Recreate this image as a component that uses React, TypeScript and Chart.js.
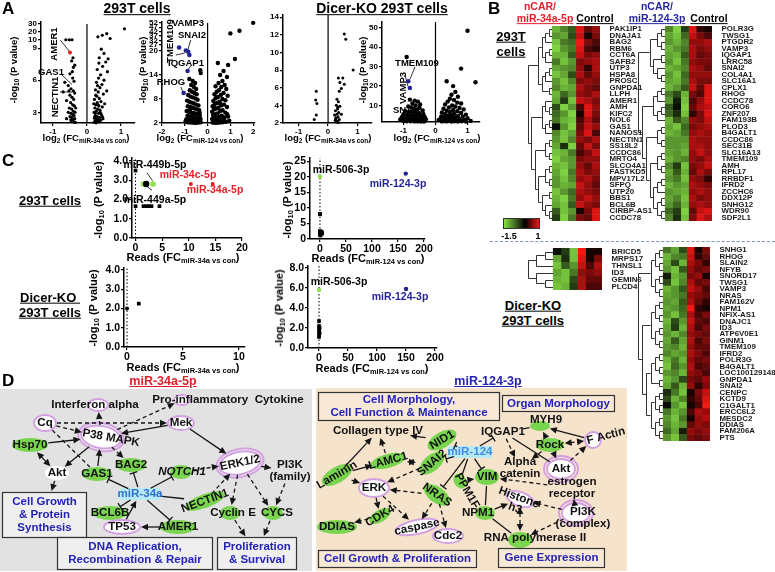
import React, { useEffect, useRef } from "react";
import { Chart, registerables } from "chart.js";
Chart.register(...registerables);

const FF = "'Liberation Sans', Arial, Helvetica, sans-serif";
const RED = "#e3202a";
const BLUE = "#25259e";

// ---------------- Panel A data (log2 FC, -log10 P) ----------------
const a1Left = [[-0.62,10.4],[-0.52,10.3],[-0.44,10.4],[-0.45,7.8],[-0.4,7.2],[-0.5,6.6],[-0.42,6.2],[-0.38,5.9],[-0.55,5.5],[-0.47,5.2],[-0.4,5.0],[-0.36,4.8],[-0.5,4.6],[-0.44,4.4],[-0.39,4.2],[-0.6,4.1],[-0.48,3.9],[-0.42,3.7],[-0.37,3.6],[-0.52,3.4],[-0.45,3.3],[-0.4,3.1],[-0.35,3.0],[-0.47,2.9],[-0.42,2.8],[-0.38,2.7],[-0.5,2.6],[-0.44,2.5],[-0.36,2.4],[-0.41,2.3],[-0.46,2.2],[-0.39,2.1],[-0.34,2.05],[-0.43,6.8],[-0.65,5.8],[-0.7,4.9],[-0.36,7.4],[-0.41,8.1],[-0.33,3.4],[-0.55,3.0],[-0.6,2.4],[-0.48,2.3],[-0.53,5.0]];
const a1Red = [[-0.5,8.6]];
const a1Right = [[1.1,24],[0.58,18],[0.45,16],[0.32,14],[0.68,12],[0.42,8.9],[0.5,8.5],[0.36,8.1],[0.55,7.7],[0.46,7.3],[0.3,7.0],[0.6,6.8],[0.4,6.5],[0.34,6.2],[0.5,6.0],[0.28,5.8],[0.44,5.6],[0.38,5.3],[0.25,5.1],[0.33,4.9],[0.48,4.7],[0.29,4.5],[0.36,4.3],[0.22,4.2],[0.41,4.0],[0.3,3.9],[0.26,3.7],[0.35,3.6],[0.45,3.5],[0.23,3.4],[0.31,3.3],[0.38,3.2],[0.27,3.1],[0.21,3.0],[0.34,2.9],[0.42,2.8],[0.25,2.7],[0.3,2.6],[0.37,2.5],[0.22,2.45],[0.28,2.35],[0.33,2.3],[0.4,2.25],[0.24,2.2],[0.3,2.15],[0.36,2.1],[0.21,2.05],[0.27,2.02],[0.47,2.4],[0.52,3.8],[0.58,5.0],[0.2,3.8],[0.26,4.6],[0.31,5.5],[0.35,7.6],[0.62,8.0],[0.24,2.9],[0.32,3.7],[0.29,2.5],[0.39,3.0],[0.45,2.6],[0.23,2.6]];
const a1Notes = [[[-0.78,10.0],[-0.52,8.7]],[[-0.74,6.5],[-0.44,5.6]],[[-0.79,4.9],[-0.44,4.9]]];
const a1YTicks = [3,6,9,10,20,30];

const a2Left = [[-0.8,13],[-0.65,12.5],[-0.55,12],[-0.72,11.5],[-0.6,11],[-0.5,10.5],[-0.78,10.2],[-0.68,9.8],[-0.58,9.5],[-0.48,9.2],[-0.85,9],[-0.75,8.6],[-0.64,8.4],[-0.53,8.1],[-0.44,7.8],[-0.9,7.6],[-0.8,7.3],[-0.7,7.1],[-0.6,6.9],[-0.5,6.6],[-0.4,6.4],[-0.87,6.2],[-0.76,6],[-0.66,5.8],[-0.56,5.6],[-0.46,5.4],[-0.37,5.2],[-0.92,5],[-0.82,4.8],[-0.72,4.6],[-0.62,4.5],[-0.52,4.3],[-0.42,4.1],[-0.34,3.9],[-0.88,3.8],[-0.78,3.6],[-0.68,3.5],[-0.58,3.4],[-0.48,3.2],[-0.38,3.1],[-0.31,3],[-0.94,2.9],[-0.84,2.8],[-0.74,2.7],[-0.64,2.6],[-0.54,2.5],[-0.44,2.4],[-0.35,2.3],[-0.9,2.2],[-0.8,2.15],[-0.7,2.1],[-0.6,2.05],[-0.5,2.02],[-0.4,2.1],[-0.3,2.2],[-0.97,2.4],[-0.86,3.3],[-0.45,2.8],[-0.57,3],[-0.67,4],[-0.77,5.3],[-0.35,4.6],[-0.3,14.5],[-0.32,15.2]];
const a2Blue = [[-0.95,20.5],[-0.85,19.8],[-0.8,19],[-0.88,15],[-1.05,9.5],[-1.25,24]];
const a2Right = [[2.0,52],[1.4,43],[1.0,40],[1.2,18],[0.45,17],[0.9,16.5],[0.7,15],[0.55,14],[0.85,13.5],[0.65,12.5],[0.48,12],[0.75,11.5],[0.35,11.2],[0.6,11],[0.82,10.5],[0.5,10.2],[0.4,9.8],[0.7,9.5],[0.3,9.2],[0.58,9],[0.88,8.8],[0.45,8.5],[0.35,8.2],[0.65,8],[0.78,7.7],[0.25,7.5],[0.52,7.3],[0.42,7],[0.32,6.8],[0.72,6.6],[0.6,6.4],[0.22,6.2],[0.85,6],[0.48,5.8],[0.38,5.6],[0.28,5.4],[0.66,5.2],[0.55,5],[0.2,4.8],[0.78,4.6],[0.44,4.4],[0.34,4.2],[0.24,4],[0.62,3.8],[0.9,3.6],[0.5,3.5],[0.4,3.3],[0.3,3.1],[0.2,3],[0.7,2.9],[0.58,2.8],[0.46,2.6],[0.36,2.5],[0.26,2.4],[0.8,2.3],[0.66,2.2],[0.54,2.1],[0.42,2.05],[0.32,2.02],[0.22,2.1],[0.95,2.6],[0.74,3.4],[0.86,4.2],[0.3,5.9],[0.56,6.9]];
const a2Notes = [[[-1.39,19],[-1.0,19.5]],[[-0.74,32.5],[-0.87,21.1]],[[-0.74,16.3],[-0.91,14.8]],[[-1.17,11],[-1.04,9.2]]];
const a2YTicks = [2,8,14,20,27,32,37,42,47,52];

const a3Points = [[-0.4,5.6],[-0.42,4.6],[-0.38,4.2],[-0.4,2.9],[-0.47,2.4],[0.55,12.1],[0.6,11.5],[0.85,8],[0.35,7.1],[0.5,7.1],[0.4,6.6],[0.55,6.4],[0.45,5.9],[0.38,5.6],[0.3,4.7],[0.35,4.4],[0.28,4.0],[0.4,3.9],[0.32,3.6],[0.25,3.4],[0.36,3.2],[0.3,3.0],[0.22,2.9],[0.34,2.7],[0.27,2.5],[0.38,2.4],[0.24,2.3],[0.31,2.2],[0.28,2.1],[0.35,2.05],[0.26,2.6],[0.33,3.8],[0.45,3.0]];
const a3YTicks = [2,4,6,8,10,12,14];

const a4Left = [[-0.9,35],[-0.8,13],[-0.65,12.5],[-0.55,12],[-0.72,11],[-0.48,10.5],[-0.62,10],[-0.85,9.5],[-0.75,9],[-0.5,8.8],[-0.68,8.2],[-0.58,7.8],[-0.4,7.5],[-0.95,7.2],[-0.82,6.8],[-0.7,6.5],[-0.6,6.2],[-0.5,6],[-0.38,5.7],[-1.0,5.5],[-0.88,5.2],[-0.76,5],[-0.64,4.8],[-0.54,4.6],[-0.44,4.4],[-0.34,4.2],[-1.05,4],[-0.92,3.8],[-0.8,3.6],[-0.68,3.5],[-0.58,3.3],[-0.48,3.1],[-0.38,3],[-0.3,2.9],[-1.1,2.8],[-0.98,2.7],[-0.86,2.6],[-0.74,2.5],[-0.62,2.4],[-0.52,2.3],[-0.42,2.2],[-0.33,2.1],[-1.0,2],[-0.9,1.9],[-0.78,1.9],[-0.66,1.8],[-0.56,1.8],[-0.46,1.7],[-0.36,1.7]];
const a4Blue = [[-0.85,22.5],[-0.8,19]];
const a4Right = [[1.0,48.5],[0.8,29],[1.25,22],[0.35,22.5],[0.55,20],[0.62,17],[0.5,15.5],[0.7,14.5],[0.45,13.5],[0.58,12.8],[0.38,12],[0.68,11.5],[0.8,11],[0.3,10.5],[0.52,10],[0.62,9.5],[0.42,9],[0.75,8.7],[0.25,8.3],[0.88,8],[0.55,7.7],[0.35,7.3],[0.68,7],[0.45,6.7],[0.2,6.4],[0.8,6.1],[0.58,5.8],[0.3,5.5],[0.95,5.3],[0.48,5],[0.38,4.8],[0.7,4.6],[0.18,4.4],[0.85,4.2],[0.6,4],[0.28,3.8],[0.5,3.6],[1.0,3.4],[0.4,3.2],[0.75,3],[0.15,2.9],[0.62,2.8],[0.32,2.6],[0.9,2.5],[0.52,2.4],[0.22,2.3],[0.7,2.2],[0.42,2.1],[1.1,2],[0.82,1.9],[0.6,1.9],[0.35,1.8],[0.2,1.8],[0.5,1.7],[0.7,1.7],[0.95,1.7],[0.28,2.0],[0.1,2.5]];
const a4Notes = [[[-0.64,29.9],[-0.8,23.4]],[[-0.95,25.7],[-0.86,19.8]]];
const a4YTicks = [10,20,30,40,50];

// ---------------- Panel C data (reads FC, -log10 P) ----------------
const c1Black = [[0,3.5],[0,1.65],[1.5,1.65],[2,1.65],[2.5,1.65],[3,1.65],[4.5,1.65]];
const c1BigBlack = [[2,2.8]];
const c1Green = [[1.5,2.8],[3.3,2.8]];
const c1Red = [[10.4,2.8],[14.5,2.8]];
const c1Notes = [[[2.16,3.38],[3.2,2.97]],[[3.1,2.47],[1.97,2.72]]];
const c2Black = [[0,8],[0,2.5],[0,2],[0,1.5],[2,2],[4,1.8],[3,2.3],[1,1.2]];
const c2Green = [[0,20]];
const c2Blue = [[165,21]];
const c3Black = [[0,2.0]];
const c3Square = [[1.05,2.25]];
const c4Black = [[0,2.7],[0,2.2],[0,1.9],[0,1.6],[0,1.3],[0,1.1],[1,2.0],[1,1.5]];
const c4Green = [[0,5.8]];
const c4Blue = [[150,5.9]];

// ---------------- Panel B heatmaps (z-scores, 3 nCAR columns + 3 control columns) ----------------
const h1Genes = ["PAK1IP1","DNAJA1","BAG2","RBM6","CCT6A","SAFB2","UTP3","HSPA8","PROSC","GNPDA1","LLPH","AMER1","AMH","KIFC2","NOL6","GAS1","NANOS1","NECTIN1","SS18L2","CCDC86","MRTO4","SLCO4A1","FASTKD5","MPV17L2","SFPQ","UTP20","BBS1","BCL6B","CIRBP-AS1","CCDC78"];
const h1Vals = [[-1.2,-0.9,-0.6,0.9,0.4,0.6],[-1.0,-1.1,-0.5,0.8,0.1,0.5],[-1.3,-0.8,-0.7,1.0,0.5,0.3],[-1.4,-1.0,-0.8,0.9,0.3,0.2],[-1.2,-1.2,-0.6,0.8,0.5,0.6],[-0.8,-1.3,-1.0,0.5,0.6,0.7],[-1.1,-1.0,-0.9,0.6,0.2,0.7],[-1.3,-1.1,-0.5,0.7,0.4,0.6],[-1.0,-1.3,-0.9,0.5,0.6,0.5],[-0.9,-1.2,-1.1,0.7,0.5,0.4],[-1.2,-0.7,-1.0,0.6,0.5,0.7],[-1.1,-0.4,-1.3,0.8,0.7,0.5],[-0.5,-1.4,-1.0,0.3,0.9,0.6],[-0.7,-1.0,-1.4,0.1,0.9,0.5],[-0.8,-1.2,-1.3,0.3,0.7,0.4],[-0.1,-1.0,-1.4,0.4,0.8,0.6],[-0.9,-1.3,-1.1,0.5,0.9,0.3],[-1.0,-1.3,-0.9,0.6,0.5,0.7],[-1.1,-0.3,-1.4,0.4,0.8,0.5],[-1.3,-1.2,-0.8,0.3,0.5,0.8],[-1.4,-1.1,-1.0,0.5,0.6,0.6],[-1.2,-1.3,-1.0,0.6,0.4,0.7],[-1.1,-1.4,-0.8,0.7,0.5,0.6],[-1.0,-1.3,-0.9,0.6,0.7,0.5],[-1.0,-1.2,-1.1,0.8,0.6,0.4],[-1.3,-1.0,-0.7,0.7,0.6,0.5],[-1.2,-1.4,-0.8,0.6,0.8,0.6],[-1.1,-1.3,-0.6,0.8,0.6,0.5],[-0.6,-1.3,-1.0,0.1,0.5,0.9],[-0.4,-1.4,-0.8,0.5,0.4,0.9]];
const h1Tree = [[[[[0,1],2],[[3,4],5]],[[[6,7],8],[9,10]]],[[[11,[12,13]],[[14,15],16]],[[[17,18],[19,20]],[[[21,22],[23,24]],[[25,26],[27,[28,29]]]]]]];

const h2Genes = ["POLR3G","TWSG1","PTGDR2","VAMP3","IQGAP1","LRRC58","SNAI2","COL4A1","SLC16A1","CPLX1","RHOG","CCDC78","CORO6","ZNF207","FAM193B","PLOD3","B4GALT1","CCDC86","SEC31B","SLC16A13","TMEM109","AMH","RPL17","RRBDF1","IFRD2","ZCCHC6","DDX12P","SNHG12","WDR90","SDF2L1"];
const h2Vals = [[-0.9,-1.4,-0.4,0.9,0.2,0.1],[-1.1,-1.3,-0.7,0.8,0.5,0.3],[-1.0,-1.2,-0.9,0.6,0.6,0.7],[-1.2,-1.0,-0.8,0.7,0.5,0.6],[-1.1,-1.2,-0.6,0.7,0.4,0.5],[-1.0,-1.3,-0.8,0.6,0.5,0.5],[-1.2,-1.1,-0.9,0.7,0.6,0.4],[-1.0,-1.3,-0.7,0.6,0.6,0.6],[-1.1,-1.2,-0.8,0.7,0.5,0.5],[-1.2,-1.0,-0.6,0.8,0.4,0.9],[-0.8,-0.5,-1.2,0.5,0.3,0.9],[-1.0,-0.2,-1.3,0.3,0.6,0.9],[-0.6,-0.1,-1.4,0.4,0.7,0.8],[-0.7,-0.3,-1.3,0.2,0.5,0.9],[-1.2,-0.6,-0.9,0.6,0.5,0.8],[-1.1,-1.3,-0.7,0.5,0.6,0.7],[-1.2,-1.1,-0.8,0.6,0.7,0.6],[-1.0,-1.0,-1.0,0.7,0.6,0.6],[-1.0,-1.0,-1.1,0.7,0.7,0.6],[-1.1,-1.0,-1.2,0.6,0.8,0.6],[-1.2,-1.0,-0.9,0.6,0.5,0.7],[-0.9,-0.4,-1.3,0.5,0.6,0.8],[-1.1,-0.6,-1.2,0.4,0.7,0.5],[-1.0,-0.8,-1.3,0.6,0.5,0.2],[-1.2,-1.0,-1.1,0.7,0.6,0.5],[-1.0,-1.1,-1.2,0.6,0.7,0.6],[-1.1,-0.9,-1.3,0.7,0.5,0.6],[-1.0,-0.7,-1.2,0.6,0.7,0.6],[-0.7,-0.4,-1.4,0.4,0.8,0.9],[-0.9,-0.3,-1.3,0.5,0.9,0.7]];
const h2Tree = [[[[0,1],[2,3]],[[4,5],[6,[7,8]]]],[[[[9,10],11],[[12,13],14]],[[[15,16],[17,18]],[[[19,20],[21,22]],[[[23,24],25],[[26,27],[28,29]]]]]]];

const h3Genes = ["BRICD5","MRPS17","THNSL1","ID3","GEMIN6","PLCD4"];
const h3Vals = [[-0.1,-0.4,-1.3,1.0,0.1,0.1],[-1.1,-0.3,-1.3,0.9,0.1,0.5],[-1.3,-0.6,-1.0,0.8,0.3,0.7],[-1.1,-1.3,-0.8,0.6,0.5,0.6],[-1.2,-1.3,-0.5,0.7,0.4,0.4],[-1.3,-1.2,-0.4,0.7,0.3,0.3]];
const h3Tree = [[[0,1],2],[3,[4,5]]];

const h4Genes = ["SNHG1","RHOG","SLAIN2","NFYB","SNORD17","TWSG1","VAMP3","NRAS","FAM162V","NPM1","NFIX-AS1","DNAJC1","ID3","ATP6V0E1","GINM1","TMEM109","IFRD2","POLR3G","B4GALT1","LOC100129148","GNPDA1","SNAI2","CENPC","KCTD9","C1GALT1","ERCC6L2","MESDC2","DDIAS","FAM206A","PTS"];
const h4Vals = [[-0.8,-1.1,-0.5,0.9,0.1,0.5],[-1.2,-0.9,-0.8,0.8,0.2,0.4],[-1.1,-0.5,-1.2,0.7,0.5,0.2],[-1.0,-1.3,-0.6,0.6,0.4,0.5],[-0.2,-1.2,-1.0,0.5,0.6,0.1],[-0.5,-1.3,-0.9,0.7,0.4,0.5],[-1.2,-1.0,-0.6,0.8,0.6,0.3],[-1.1,-1.0,-0.8,0.6,0.5,0.4],[-1.0,-1.1,-0.6,0.7,0.4,0.2],[-1.1,-1.0,-0.7,1.0,0.2,0.1],[-1.0,-1.3,-0.8,0.7,0.3,0.5],[-1.2,-0.5,-1.0,0.8,0.4,0.3],[-1.1,-0.4,-1.2,0.7,0.3,0.5],[-1.0,-1.2,-0.9,0.6,0.5,0.4],[-1.1,-0.6,-1.1,0.7,0.3,0.5],[-1.0,-0.9,-1.2,0.6,0.4,0.4],[-0.9,-1.1,-1.0,0.7,0.5,0.3],[-1.2,-0.8,-1.2,0.6,0.4,0.5],[-1.3,-0.7,-1.0,0.7,0.3,0.4],[-1.0,-0.9,-1.2,0.6,0.5,0.3],[-1.2,-1.0,-0.5,0.5,0.4,0.6],[-1.1,-0.6,-1.2,0.6,0.2,0.5],[-0.3,-0.8,-1.3,0.1,0.5,0.8],[-0.5,-1.2,-0.9,0.2,0.4,0.9],[-0.1,-1.0,-1.3,0.1,0.3,1.0],[-0.8,-1.2,-1.0,0.3,0.7,0.6],[-1.0,-1.3,-0.8,0.1,0.6,0.7],[-0.9,-1.2,-1.0,0.4,0.6,0.5],[-0.7,-1.1,-0.2,0.6,0.5,0.6],[-1.0,-1.3,-0.6,0.5,0.4,0.5]];
const h4Tree = [[[[0,1],[2,3]],[[4,5],[6,7]]],[[[[8,9],[10,11]],[[12,13],[14,15]]],[[[[16,17],[18,19]],[20,21]],[[[22,23],[24,25]],[[26,27],[28,29]]]]]];

// ---------------- Panel D networks (IPA) ----------------
const dBackgrounds = [
  { x0: 0, y0: 389, x1: 312, y1: 571, c: "#e2e2e2" },
  { x0: 316, y0: 388, x1: 627, y1: 571, c: "#f6e3cc" },
];
const dNodes = [
  { id: "ifn", t: ["Interferon alpha"], x: 95, y: 405, s: "pink", sx: 98, rx: 10, ry: 6 },
  { id: "pic", t: ["Pro-inflammatory  Cytokine"], x: 228, y: 400, s: "pink", sx: 182, rx: 8, ry: 5 },
  { id: "cq", t: ["Cq"], x: 45, y: 423, s: "pink", rx: 11, ry: 8 },
  { id: "mek", t: ["Mek"], x: 181, y: 423, s: "pink", rx: 13, ry: 7 },
  { id: "p38", t: ["P38 MAPK"], x: 111, y: 438, rot: 10, s: "pink2", sx: 101, sy: 437, rx: 20, ry: 11 },
  { id: "hsp", t: ["Hsp70"], x: 30, y: 445, s: "green", rx: 18, ry: 7 },
  { id: "akt", t: ["Akt"], x: 57, y: 473, s: "white", rx: 12, ry: 7 },
  { id: "gas1", t: ["GAS1"], x: 97, y: 474, s: "green", rx: 15, ry: 7 },
  { id: "bag2", t: ["BAG2"], x: 131, y: 465, s: "green", rx: 15, ry: 7 },
  { id: "notch", t: ["NOTCH1"], x: 182, y: 472, it: true, s: "green", sx: 181, rx: 11, ry: 7 },
  { id: "erk", t: ["ERK1/2"], x: 240, y: 463, rot: -12, s: "pink2", rx: 21, ry: 11 },
  { id: "pi3k", t: ["PI3K", "(family)"], x: 290, y: 471, s: "none", rx: 18, ry: 12 },
  { id: "mir", t: ["miR-34a"], x: 140, y: 494, s: "mir", c: "#2f72cf", rx: 20, ry: 6 },
  { id: "nec", t: ["NECTIN1"], x: 205, y: 501, rot: -20, s: "green", rx: 21, ry: 7 },
  { id: "bcl", t: ["BCL6B"], x: 110, y: 513, s: "green", rx: 17, ry: 7 },
  { id: "cyc", t: ["Cyclin E"], x: 233, y: 513, s: "green", sx: 230, rx: 10, ry: 7 },
  { id: "cycs", t: ["CYCS"], x: 277, y: 513, s: "green", sx: 273, rx: 10, ry: 7 },
  { id: "tp53", t: ["TP53"], x: 122, y: 527, s: "pink", rx: 18, ry: 7 },
  { id: "amer", t: ["AMER1"], x: 178, y: 527, s: "green", rx: 18, ry: 7 },
  { id: "col", t: ["Collagen type IV"], x: 378, y: 431, s: "none", rx: 45, ry: 6 },
  { id: "myh9", t: ["MYH9"], x: 546, y: 420, s: "green", sx: 540, sy: 426, rx: 10, ry: 5 },
  { id: "iq", t: ["IQGAP1"], x: 503, y: 432, s: "none", rx: 22, ry: 6 },
  { id: "nid", t: ["NID1"], x: 442, y: 440, rot: -30, s: "green", rx: 16, ry: 8 },
  { id: "m124", t: ["miR-124"], x: 470, y: 452, s: "mir", c: "#3f8ee0", rx: 22, ry: 6 },
  { id: "rock", t: ["Rock"], x: 550, y: 445, s: "green", rx: 14, ry: 7 },
  { id: "fact", t: ["F Actin"], x: 606, y: 436, rot: -15, s: "pink", sx: 593, sy: 440, rx: 8, ry: 8 },
  { id: "lam", t: ["Laminin"], x: 337, y: 475, rot: -30, s: "green", rx: 17, ry: 8 },
  { id: "lamc", t: ["LAMC1"], x: 388, y: 461, rot: -15, s: "green", rx: 18, ry: 7 },
  { id: "snai", t: ["SNAI2"], x: 432, y: 463, rot: -40, s: "green", rx: 15, ry: 8 },
  { id: "alpha", t: ["Alpha", "catenin"], x: 520, y: 468, s: "none", rx: 20, ry: 10 },
  { id: "akt2", t: ["Akt"], x: 561, y: 469, s: "pink2", rx: 14, ry: 10 },
  { id: "erk2", t: ["ERK"], x: 374, y: 488, s: "pink", rx: 15, ry: 9 },
  { id: "nras", t: ["NRAS"], x: 437, y: 495, rot: 35, s: "green", rx: 15, ry: 8 },
  { id: "ppm", t: ["PPM1F"], x: 467, y: 491, rot: 60, s: "green", sx: 460, sy: 481, rx: 8, ry: 6 },
  { id: "vim", t: ["VIM"], x: 487, y: 477, s: "green", rx: 12, ry: 8 },
  { id: "hist", t: ["Histone", "h3"], x: 517, y: 503, rot: 20, s: "pink", sx: 520, sy: 499, rx: 14, ry: 7 },
  { id: "estr", t: ["estrogen", "receptor"], x: 572, y: 488, s: "none", rx: 25, ry: 10 },
  { id: "cdk4", t: ["CDK4"], x: 380, y: 516, rot: -30, s: "green", rx: 12, ry: 6 },
  { id: "ddias", t: ["DDIAS"], x: 337, y: 527, s: "green", rx: 20, ry: 7 },
  { id: "casp", t: ["caspase"], x: 417, y: 527, rot: -12, s: "pink", rx: 22, ry: 7 },
  { id: "cdc2", t: ["Cdc2"], x: 448, y: 536, s: "pink", rx: 15, ry: 7 },
  { id: "npm", t: ["NPM1"], x: 478, y: 513, s: "green", sx: 485, rx: 10, ry: 7 },
  { id: "pi3kc", t: ["PI3K", "(complex)"], x: 583, y: 518, s: "pink2", sx: 576, sy: 513, rx: 14, ry: 10 },
  { id: "rna", t: ["RNA polymerase II"], x: 535, y: 538, s: "green", sx: 520, sy: 540, rx: 12, ry: 8 },
];
const dBoxes = [
  { id: "bxg", t: ["Cell Growth", "& Protein", "Synthesis"], x0: 2, y0: 492, x1: 87, y1: 538, f: "#efefef" },
  { id: "bxd", t: ["DNA Replication,", "Recombination & Repair"], x0: 57, y0: 537, x1: 213, y1: 570, f: "#efefef" },
  { id: "bxp", t: ["Proliferation", "& Survival"], x0: 217, y0: 537, x1: 297, y1: 570, f: "#efefef" },
  { id: "bcm", t: ["Cell Morphology,", "Cell Function & Maintenance"], x0: 318, y0: 392, x1: 500, y1: 421, f: "#f8e8d6" },
  { id: "bom", t: ["Organ Morphology"], x0: 502, y0: 395, x1: 615, y1: 412, f: "#f8e8d6" },
  { id: "bcg", t: ["Cell Growth & Proliferation"], x0: 318, y0: 550, x1: 477, y1: 568, f: "#f8e8d6" },
  { id: "bge", t: ["Gene Expression"], x0: 498, y0: 548, x1: 605, y1: 568, f: "#f8e8d6" },
];
// a = arrow, da = dashed arrow, i = inhibition, l = line, aa/dd = double-headed
const dEdges = [
  ["cq","p38","da"],["cq","mek","da"],["mek","p38","a"],["p38","ifn","da"],["p38","pic","da"],["hsp","p38","a"],["hsp","akt","aa"],["p38","akt","a"],["cq","gas1","d"],["gas1","p38","a"],["p38","bag2","da"],["mek","erk","a"],["erk","pi3k","da"],["erk","cyc","da"],["erk","cycs","da"],["pi3k","cycs","da"],["nec","erk","da"],["notch","erk","da"],["mir","gas1","i"],["mir","bag2","i"],["mir","notch","i"],["mir","bcl","i"],["mir","nec","l"],["mir","amer","i"],["tp53","mir","a"],["amer","tp53","a"],["cyc","bxp","da"],["cycs","bxp","da"],["akt","bxg","da"],
  ["lam","col","a"],["lam","lamc","a"],["lam","erk2","da"],["lamc","col","da"],["lamc","snai","dd"],["nid","col","a"],["m124","nid","i"],["m124","snai","i"],["m124","iq","i"],["m124","vim","i"],["m124","nras","i"],["m124","ppm","l"],["snai","erk2","da"],["erk2","cdk4","da"],["erk2","casp","da"],["nras","erk2","da"],["nras","casp","da"],["nras","cdc2","da"],["cdk4","ddias","da"],["iq","alpha","da"],["iq","akt2","l"],["iq","myh9","l"],["rock","myh9","da"],["rock","alpha","da"],["rock","fact","dd"],["fact","myh9","a"],["akt2","fact","da"],["rock","akt2","da"],["ppm","vim","da"],["estr","vim","da"],["vim","npm","l"],["npm","hist","a"],["hist","rna","dd"],["npm","rna","l"],["pi3kc","hist","da"],["pi3kc","rna","da"],["pi3kc","estr","da"],
];

// ---------------- helpers ----------------
const brkA1 = (v: number) => (v <= 9 ? v : v <= 10 ? 9 + (v - 9) * 0.75 : 9.75 + (v - 10) * 0.075);
const brkA2 = (v: number) => (v <= 20 ? v : 20 + (v - 20) * 0.22);
const ident = (v: number) => v;

function heatColor(v: number) {
  if (v < 0) {
    const t = Math.min(1, -v / 1.5);
    return `rgb(${Math.round(135 * t)},${Math.round(225 * t)},${Math.round(70 * t)})`;
  }
  const t = Math.min(1, v);
  return `rgb(${Math.round(245 * t)},${Math.round(22 * t)},${Math.round(22 * t)})`;
}

function pts(arr: number[][], tf: (v: number) => number, color: string, r: number, style = "circle") {
  return {
    data: arr.map(([x, y]) => ({ x, y: tf(y) })),
    pointRadius: r, pointBackgroundColor: color, pointBorderWidth: 0, pointStyle: style,
    showLine: false, order: 1, clip: false,
  };
}
function seg(arr: number[][], tf: (v: number) => number, dash: number[] = [], w = 1, color = "#000") {
  return {
    data: arr.map(([x, y]) => ({ x, y: tf(y) })),
    showLine: true, borderColor: color, borderWidth: w, borderDash: dash, pointRadius: 0, order: 2, clip: false,
  };
}

function linAxis(min: number, max: number, vals: number[], fs: number, cb: any, size: number, horiz: boolean) {
  return {
    type: "linear", min, max,
    afterBuildTicks: (s: any) => { s.ticks = vals.map((v) => ({ value: v })); },
    afterFit: (s: any) => {
      if (horiz) s.height = size; else s.width = size;
      s.paddingLeft = 0; s.paddingRight = 0; s.paddingTop = 0; s.paddingBottom = 0;
    },
    grid: { display: true, drawOnChartArea: false, drawTicks: true, tickLength: 3, color: "#000", lineWidth: 1.2 },
    border: { display: true, color: "#000", width: 1.5 },
    ticks: { font: { family: FF, size: fs, weight: "bold" }, color: "#000", padding: 1, maxRotation: 0, autoSkip: false, callback: cb },
  };
}

function scatterSpec(area: any, xr: number[], yr: number[], xt: number[], yt: number[], fs: number, datasets: () => any[], ycb?: any) {
  const pad = 16, yw = 30, xh = 16;
  const box = { left: area.l - pad - yw, top: area.t - pad, width: area.r - area.l + yw + 2 * pad, height: area.b - area.t + xh + 2 * pad };
  const make = () => ({
    type: "scatter",
    data: { datasets: datasets() },
    options: {
      responsive: false, animation: false, events: [],
      layout: { padding: { left: pad, right: pad, top: pad, bottom: pad } },
      plugins: { legend: { display: false }, tooltip: { enabled: false } },
      scales: {
        x: linAxis(xr[0], xr[1], xt, fs, (v: any) => String(v), xh, true),
        y: linAxis(yr[0], yr[1], yt, fs, ycb ?? ((v: any) => String(v)), yw, false),
      },
    },
  });
  return { box, make };
}

function brokenLabels(ticks: number[], tf: (v: number) => number) {
  const m = new Map<number, string>();
  ticks.forEach((t) => m.set(tf(t), String(t)));
  return { pos: ticks.map(tf), cb: (v: any) => m.get(v) ?? "" };
}

function dendroPlugin(tree: any, dUnits: number) {
  return {
    id: "dendro",
    afterDatasetsDraw(chart: any) {
      const { ctx, scales: { x, y } } = chart;
      const hOf = (n: any): number => (typeof n === "number" ? 0 : 1 + Math.max(hOf(n[0]), hOf(n[1])));
      const maxH = hOf(tree);
      const X = (h: number) => x.getPixelForValue((-h / maxH) * dUnits);
      ctx.save();
      ctx.strokeStyle = "#333"; ctx.lineWidth = 1; ctx.beginPath();
      const walk = (n: any): any => {
        if (typeof n === "number") return { yv: n, h: 0 };
        const a = walk(n[0]), b = walk(n[1]);
        const h = 1 + Math.max(a.h, b.h);
        const ya = Math.round(y.getPixelForValue(a.yv)) + 0.5, yb = Math.round(y.getPixelForValue(b.yv)) + 0.5;
        const xh = Math.round(X(h)) + 0.5;
        ctx.moveTo(X(a.h), ya); ctx.lineTo(xh, ya); ctx.lineTo(xh, yb); ctx.lineTo(X(b.h), yb);
        return { yv: (a.yv + b.yv) / 2, h };
      };
      walk(tree);
      ctx.stroke(); ctx.restore();
    },
  };
}

function heatSpec(genes: string[], vals: number[][], tree: any, g: any, labelW: number, fs: number) {
  const cellPx = (g.cr - g.cl) / 6;
  const dUnits = (g.cl - g.dl) / cellPx;
  const box = { left: g.dl - 2, top: g.t - 1, width: g.cr - g.dl + 2 + labelW, height: g.b - g.t + 2 };
  const make = () => ({
    type: "bar",
    data: {
      labels: genes,
      datasets: [0, 1, 2, 3, 4, 5].map((c) => ({
        data: vals.map(() => [c, c + 1]),
        backgroundColor: vals.map((row) => heatColor(row[c])),
        borderColor: vals.map((row) => heatColor(row[c])),
        borderWidth: 0.4, borderSkipped: false,
        barPercentage: 1, categoryPercentage: 1, grouped: false,
      })),
    },
    options: {
      indexAxis: "y", responsive: false, animation: false, events: [],
      layout: { padding: { left: 2, right: 0, top: 1, bottom: 1 } },
      plugins: { legend: { display: false }, tooltip: { enabled: false } },
      scales: {
        x: { type: "linear", min: -dUnits, max: 6, display: false },
        y: {
          type: "category", position: "right", offset: true,
          grid: { display: false }, border: { display: false },
          ticks: { font: { family: FF, size: fs, weight: "bold" }, color: "#1a1a1a", padding: 1.5, autoSkip: false },
          afterFit: (s: any) => { s.width = labelW; s.paddingTop = 0; s.paddingBottom = 0; s.paddingLeft = 0; s.paddingRight = 0; },
        },
      },
    },
    plugins: [dendroPlugin(tree, dUnits)],
  });
  return { box, make };
}

function netPlugin() {
  return {
    id: "net",
    beforeDatasetsDraw(chart: any) {
      const { ctx, scales: { x, y } } = chart;
      const X = (v: number) => x.getPixelForValue(v), Y = (v: number) => y.getPixelForValue(v);
      ctx.save();
      for (const r of dBackgrounds) { ctx.fillStyle = r.c; ctx.fillRect(X(r.x0), Y(r.y0), X(r.x1) - X(r.x0), Y(r.y1) - Y(r.y0)); }
      const map: any = {};
      dNodes.forEach((n: any) => (map[n.id] = { cx: n.sx ?? n.x, cy: n.sy ?? n.y, rx: n.rx, ry: n.ry }));
      dBoxes.forEach((b: any) => (map[b.id] = { cx: (b.x0 + b.x1) / 2, cy: (b.y0 + b.y1) / 2, hw: (b.x1 - b.x0) / 2, hh: (b.y1 - b.y0) / 2, box: true }));
      for (const n of dNodes as any[]) {
        const cx = X(n.sx ?? n.x), cy = Y(n.sy ?? n.y), rot = ((n.rot ?? 0) * Math.PI) / 180;
        if (n.s === "green") {
          ctx.fillStyle = "#79d44f"; ctx.beginPath(); ctx.ellipse(cx, cy, n.rx, n.ry, rot, 0, Math.PI * 2); ctx.fill();
        } else if (n.s === "pink" || n.s === "pink2") {
          ctx.fillStyle = "#ffffff"; ctx.strokeStyle = "#d49ee2"; ctx.lineWidth = 1.8;
          ctx.beginPath(); ctx.ellipse(cx, cy, n.rx, n.ry, rot, 0, Math.PI * 2); ctx.fill(); ctx.stroke();
          if (n.s === "pink2") { ctx.beginPath(); ctx.ellipse(cx, cy, n.rx + 3, n.ry + 3, rot, 0, Math.PI * 2); ctx.stroke(); }
        } else if (n.s === "white") {
          ctx.fillStyle = "#ffffff"; ctx.beginPath(); ctx.ellipse(cx, cy, n.rx, n.ry, 0, 0, Math.PI * 2); ctx.fill();
        } else if (n.s === "mir") {
          ctx.fillStyle = "#b9e8f6"; ctx.fillRect(cx - n.rx, cy - n.ry, n.rx * 2, n.ry * 2);
        }
      }
      ctx.strokeStyle = "#151515"; ctx.fillStyle = "#151515"; ctx.lineWidth = 1.3;
      const bound = (n: any, dx: number, dy: number) => {
        if (n.box) return Math.min(Math.abs(dx) > 1e-6 ? n.hw / Math.abs(dx) : 1e9, Math.abs(dy) > 1e-6 ? n.hh / Math.abs(dy) : 1e9);
        return 1 / Math.sqrt((dx / n.rx) ** 2 + (dy / n.ry) ** 2);
      };
      const head = (px: number, py: number, ang: number) => {
        const L = 7, W = 3.3;
        ctx.beginPath(); ctx.moveTo(px, py);
        ctx.lineTo(px - L * Math.cos(ang) + W * Math.sin(ang), py - L * Math.sin(ang) - W * Math.cos(ang));
        ctx.lineTo(px - L * Math.cos(ang) - W * Math.sin(ang), py - L * Math.sin(ang) + W * Math.cos(ang));
        ctx.closePath(); ctx.fill();
      };
      for (const [f, t, kind] of dEdges) {
        const a = map[f], b = map[t];
        const ax = X(a.cx), ay = Y(a.cy), bx = X(b.cx), by = Y(b.cy);
        const len = Math.hypot(bx - ax, by - ay), ux = (bx - ax) / len, uy = (by - ay) / len;
        const sa = bound(a, ux, uy) + 1, sb = bound(b, ux, uy) + 1;
        const x1 = ax + ux * sa, y1 = ay + uy * sa, x2 = bx - ux * sb, y2 = by - uy * sb;
        const ang = Math.atan2(uy, ux);
        const dashed = kind === "da" || kind === "d" || kind === "dd";
        const endArrow = kind === "a" || kind === "da" || kind === "aa" || kind === "dd";
        const startArrow = kind === "aa" || kind === "dd";
        ctx.setLineDash(dashed ? [4, 3] : []);
        ctx.beginPath();
        ctx.moveTo(startArrow ? x1 + ux * 6 : x1, startArrow ? y1 + uy * 6 : y1);
        ctx.lineTo(endArrow ? x2 - ux * 6 : x2, endArrow ? y2 - uy * 6 : y2);
        ctx.stroke(); ctx.setLineDash([]);
        if (endArrow) head(x2, y2, ang);
        if (startArrow) head(x1, y1, ang + Math.PI);
        if (kind === "i") {
          ctx.beginPath(); ctx.moveTo(x2 - uy * 4, y2 + ux * 4); ctx.lineTo(x2 + uy * 4, y2 - ux * 4); ctx.stroke();
        }
      }
      ctx.textAlign = "center"; ctx.textBaseline = "middle";
      for (const n of dNodes as any[]) {
        ctx.save();
        ctx.translate(X(n.x), Y(n.y)); ctx.rotate(((n.rot ?? 0) * Math.PI) / 180);
        ctx.font = `${n.it ? "italic " : ""}bold 11.6px ${FF}`; ctx.fillStyle = n.c ?? "#111";
        n.t.forEach((s: string, i: number) => ctx.fillText(s, 0, (i - (n.t.length - 1) / 2) * 11.5));
        ctx.restore();
      }
      for (const b of dBoxes as any[]) {
        ctx.fillStyle = b.f; ctx.strokeStyle = "#333"; ctx.lineWidth = 1.2;
        ctx.fillRect(X(b.x0), Y(b.y0), X(b.x1) - X(b.x0), Y(b.y1) - Y(b.y0));
        ctx.strokeRect(X(b.x0) + 0.5, Y(b.y0) + 0.5, X(b.x1) - X(b.x0) - 1, Y(b.y1) - Y(b.y0) - 1);
        ctx.fillStyle = "#2323b8"; ctx.font = `bold 11.5px ${FF}`;
        const cx = (X(b.x0) + X(b.x1)) / 2, cy = (Y(b.y0) + Y(b.y1)) / 2;
        b.t.forEach((s: string, i: number) => ctx.fillText(s, cx, cy + (i - (b.t.length - 1) / 2) * 13));
      }
      ctx.restore();
    },
  };
}

const diagramSpec = {
  box: { left: 0, top: 383, width: 630, height: 189 },
  make: () => ({
    type: "scatter",
    data: { datasets: [{ data: dNodes.map((n) => ({ x: n.x, y: n.y })), pointRadius: 0 }] },
    options: {
      responsive: false, animation: false, events: [],
      layout: { padding: 0 },
      plugins: { legend: { display: false }, tooltip: { enabled: false } },
      scales: {
        x: { type: "linear", min: 0, max: 630, display: false },
        y: { type: "linear", min: 383, max: 572, reverse: true, display: false },
      },
    },
    plugins: [netPlugin()],
  }),
};

// ---------------- chart specs ----------------
const a1Y = brokenLabels(a1YTicks, brkA1);
const a2Y = brokenLabels(a2YTicks, brkA2);
const AF = 8;
const specA1 = scatterSpec({ l: 41, r: 135, t: 22, b: 123 }, [-1.35, 1.41], [2, 11.44], [-1, 0, 1], a1Y.pos, AF, () => [
  seg([[0, 2], [0, 30]], brkA1, [], 1.2),
  ...a1Notes.map((n) => seg(n, brkA1, [], 0.8)),
  pts(a1Left, brkA1, "#000", 1.6), pts(a1Right, brkA1, "#000", 1.6), pts(a1Red, brkA1, "#e02020", 2),
], a1Y.cb);
const specA2 = scatterSpec({ l: 162, r: 255, t: 22, b: 123 }, [-2, 2.08], [2, 27.25], [-2, -1, 0, 1, 2], a2Y.pos, AF, () => [
  seg([[0, 2], [0, 52]], brkA2, [], 1.2),
  ...a2Notes.map((n) => seg(n, brkA2, [], 0.8)),
  pts(a2Left, brkA2, "#000", 2.2), pts(a2Right, brkA2, "#000", 2.2), pts(a2Blue, brkA2, "#23238f", 2.3),
], a2Y.cb);
const specA3 = scatterSpec({ l: 283, r: 372, t: 15, b: 123 }, [-1.53, 1.49], [2, 14.25], [-1, 0, 1], a3YTicks, AF, () => [
  seg([[0, 2], [0, 14.25]], ident, [], 1.2),
  pts(a3Points, ident, "#000", 1.5),
]);
const specA4 = scatterSpec({ l: 382, r: 480, t: 22, b: 122 }, [-1.67, 1.39], [1.5, 53], [-1, 0, 1], a4YTicks, AF, () => [
  seg([[0, 1.5], [0, 53]], ident, [], 1.2),
  ...a4Notes.map((n) => seg(n, ident, [], 0.8)),
  pts(a4Left, ident, "#000", 2.2), pts(a4Right, ident, "#000", 2.2), pts(a4Blue, ident, "#23238f", 2.3),
]);
const fix1 = (v: any) => Number(v).toFixed(1);
const specC1 = scatterSpec({ l: 132, r: 242, t: 158, b: 238 }, [-0.66, 20], [0, 4.15], [0, 5, 10, 15, 20], [0, 1, 2, 3, 4], 10.5, () => [
  seg([[0, 0], [0, 4.15]], ident, [1.5, 2], 1),
  ...c1Notes.map((n) => seg(n, ident, [], 0.8)),
  pts(c1Black, ident, "#000", 2.6, "rect"), pts(c1BigBlack, ident, "#000", 3.2),
  pts(c1Green, ident, "#8ee04a", 2.8), pts(c1Red, ident, "#e02020", 2),
], fix1);
const specC2 = scatterSpec({ l: 310, r: 425, t: 158, b: 239 }, [-19.2, 202], [0, 26], [0, 50, 100, 150, 200], [0, 5, 10, 15, 20, 25], 10.5, () => [
  seg([[0, 0], [0, 26]], ident, [1.5, 2], 1),
  pts(c2Black, ident, "#000", 2.8, "rect"), pts(c2Green, ident, "#8ee04a", 2.2), pts(c2Blue, ident, "#23238f", 2.2),
]);
const specC3 = scatterSpec({ l: 124, r: 245, t: 268, b: 347 }, [-0.27, 10.54], [0, 4.1], [0, 5, 10], [0, 1, 2, 3, 4], 10.5, () => [
  seg([[0, 0], [0, 4.1]], ident, [1.5, 2], 1),
  pts(c3Black, ident, "#000", 2), pts(c3Square, ident, "#000", 2.6, "rect"),
], fix1);
const specC4 = scatterSpec({ l: 308, r: 437, t: 266, b: 348 }, [-19, 203.4], [0, 8.2], [0, 50, 100, 150, 200], [0, 2, 4, 6, 8], 10.5, () => [
  seg([[0, 0], [0, 8.2]], ident, [1.5, 2], 1),
  pts(c4Black, ident, "#000", 2.6, "rect"), pts(c4Green, ident, "#8ee04a", 2.2), pts(c4Blue, ident, "#23238f", 2.2),
], fix1);

const HF = 7.9;
const specH1 = heatSpec(h1Genes, h1Vals, h1Tree, { dl: 528, cl: 552, cr: 600, t: 26, b: 221 }, 62, HF);
const specH2 = heatSpec(h2Genes, h2Vals, h2Tree, { dl: 638, cl: 665, cr: 712, t: 26, b: 221 }, 62, HF);
const specH3 = heatSpec(h3Genes, h3Vals, h3Tree, { dl: 528, cl: 553, cr: 602, t: 248, b: 290 }, 55, HF);
const specH4 = heatSpec(h4Genes, h4Vals, h4Tree, { dl: 638, cl: 663, cr: 710, t: 247, b: 441 }, 72, HF);

// ---------------- components ----------------
function ChartCanvas({ spec }: any) {
  const ref = useRef<HTMLCanvasElement>(null);
  useEffect(() => {
    const ch = new Chart(ref.current as any, spec.make());
    return () => ch.destroy();
  }, []);
  const b = spec.box;
  return <canvas ref={ref} width={b.width} height={b.height} style={{ position: "absolute", left: b.left, top: b.top, width: b.width, height: b.height }} />;
}

function T({ x, y, children, fs = 10, c = "#000", rot = 0, u = false, a = "c", lh = 1.12, w = 700 }: any) {
  const tx = a === "c" ? "-50%" : a === "l" ? "0%" : "-100%";
  return (
    <div style={{ position: "absolute", left: x, top: y, transform: `translate(${tx},-50%) rotate(${rot}deg)`, fontSize: fs, fontWeight: w, color: c, textDecoration: u ? "underline" : "none", whiteSpace: "pre", lineHeight: lh, fontFamily: FF, textAlign: "center" }}>
      {children}
    </div>
  );
}
const Sub = ({ children }: any) => <sub style={{ fontSize: "0.68em", verticalAlign: "-0.3em", lineHeight: 0 }}>{children}</sub>;
const YT = ({ x, y, fs }: any) => (
  <T x={x} y={y} fs={fs} rot={-90}>-log<Sub>10</Sub> (P value)</T>
);
const XA = ({ x, y, fs, s }: any) => (
  <T x={x} y={y} fs={fs}>log<Sub>2</Sub> (FC<Sub>{s}</Sub>)</T>
);
const XC = ({ x, y, fs, s }: any) => (
  <T x={x} y={y} fs={fs}>Reads (FC<Sub>{s}</Sub>)</T>
);

export default function App() {
  return (
    <div style={{ position: "fixed", left: 0, top: 0, width: 775, height: 572, background: "#fff", overflow: "hidden", fontFamily: FF }}>
      {[specA1, specA2, specA3, specA4, specC1, specC2, specC3, specC4, specH1, specH2, specH3, specH4, diagramSpec].map((s, i) => (
        <ChartCanvas key={i} spec={s} />
      ))}

      {/* Panel A */}
      <T x={2} y={9} fs={17} a="l">A</T>
      <T x={137} y={9} fs={14} u>293T cells</T>
      <T x={382} y={9} fs={14} u>Dicer-KO 293T cells</T>
      <YT x={14} y={70} fs={9.5} />
      <YT x={143} y={70} fs={9.5} />
      <YT x={363} y={70} fs={9.5} />
      <XA x={86} y={138} fs={9.5} s="miR-34a vs con" />
      <XA x={200} y={138} fs={9.5} s="miR-124 vs con" />
      <XA x={328} y={138} fs={9.5} s="miR-34a vs con" />
      <XA x={437} y={138} fs={9.5} s="miR-124 vs con" />
      <T x={54} y={44} fs={9.5} rot={-90}>AMER1</T>
      <T x={51} y={72} fs={9.5}>GAS1</T>
      <T x={55} y={97} fs={9.5} rot={-90}>NECTIN1</T>
      <T x={170} y={41} fs={9.5} rot={-90}>TMEM109</T>
      <T x={188} y={23} fs={9.5}>VAMP3</T>
      <T x={192} y={35} fs={9.5}>SNAI2</T>
      <T x={186} y={63} fs={9.5}>IQGAP1</T>
      <T x={171} y={82} fs={9.5}>RHOG</T>
      <T x={417} y={63} fs={9.5}>TMEM109</T>
      <T x={403} y={88} fs={9.5} rot={-90}>VAMP3</T>
      <T x={407} y={110} fs={9.5}>SNAI2</T>

      {/* Panel B */}
      <T x={488} y={9} fs={17} a="l">B</T>
      <T x={540} y={7} fs={10.5} c={RED}>nCAR/</T>
      <T x={545} y={19} fs={10.5} c={RED} u>miR-34a-5p</T>
      <T x={595} y={19} fs={10.5} u>Control</T>
      <T x={657} y={7} fs={10.5} c={BLUE}>nCAR/</T>
      <T x={657} y={19} fs={10.5} c={BLUE} u>miR-124-3p</T>
      <T x={709} y={19} fs={10.5} u>Control</T>
      <T x={511} y={44} fs={13} u lh={1.18}>{"293T\ncells"}</T>
      <div style={{ position: "absolute", left: 503, top: 218, width: 35, height: 9, border: "1px solid #333", background: "linear-gradient(to right, rgb(135,225,70), #000 60%, rgb(245,22,22))" }} />
      <T x={509} y={236} fs={9}>-1.5</T>
      <T x={538} y={236} fs={9}>1</T>
      <div style={{ position: "absolute", left: 490, top: 241, width: 285, borderTop: "1px dashed #7f93b8" }} />
      <T x={533} y={313} fs={13} u lh={1.18}>{"Dicer-KO\n293T cells"}</T>

      {/* Panel C */}
      <T x={2} y={161} fs={17} a="l">C</T>
      <T x={50} y={201} fs={13} u>293T cells</T>
      <T x={50} y={305} fs={13} u lh={1.18}>{"Dicer-KO \n293T cells"}</T>
      <YT x={98} y={200} fs={11} />
      <YT x={287} y={200} fs={11} />
      <YT x={93} y={308} fs={11} />
      <YT x={279} y={308} fs={11} />
      <XC x={183} y={257} fs={11} s="miR-34a vs con" />
      <XC x={368} y={258} fs={11} s="miR-124 vs con" />
      <XC x={183} y={367} fs={11} s="miR-34a vs con" />
      <XC x={372} y={368} fs={11} s="miR-124 vs con" />
      <T x={155} y={165} fs={10.5}>miR-449b-5p</T>
      <T x={188} y={175} fs={10.5} c={RED}>miR-34c-5p</T>
      <T x={215} y={190} fs={10.5} c={RED}>miR-34a-5p</T>
      <T x={155} y={200} fs={10.5}>miR-449a-5p</T>
      <T x={341} y={170} fs={10.5}>miR-506-3p</T>
      <T x={398} y={184} fs={10.5} c={BLUE}>miR-124-3p</T>
      <T x={339} y={282} fs={10.5}>miR-506-3p</T>
      <T x={400} y={297} fs={10.5} c={BLUE}>miR-124-3p</T>

      {/* Panel D */}
      <T x={2} y={381} fs={17} a="l">D</T>
      <T x={163} y={381} fs={12.5} c={RED} u>miR-34a-5p</T>
      <T x={488} y={381} fs={12.5} c="#2323b0" u>miR-124-3p</T>
    </div>
  );
}
